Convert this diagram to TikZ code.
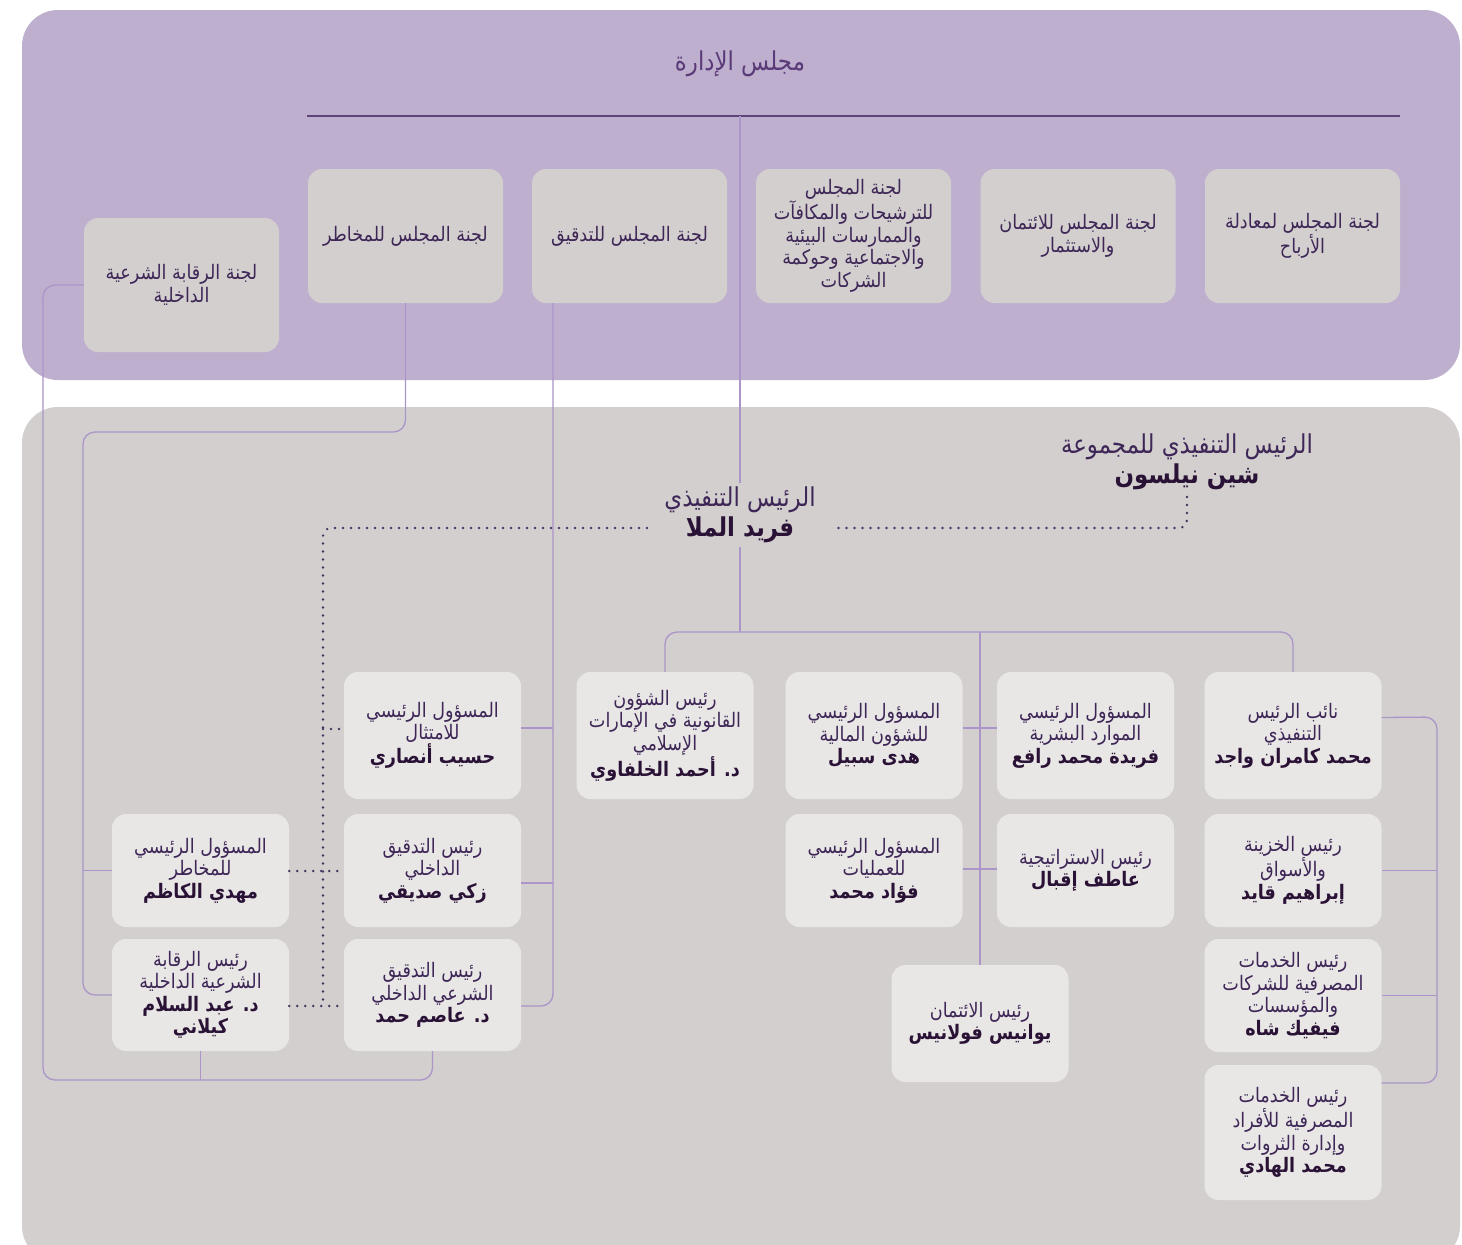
\documentclass[tikz,border=0pt]{standalone}
\usepackage{fontspec}
\TeXXeTstate=1
\newfontfamily\arfont[Script=Arabic,FakeStretch=0.88]{DejaVu Sans}
\newcommand\AR[1]{{\arfont\beginR #1\endR}}
\newcommand\ARB[1]{{\arfont\bfseries\beginR #1\endR}}
\definecolor{toppanel}{HTML}{BEAFCE}
\definecolor{botpanel}{HTML}{D3CFCF}
\definecolor{commc}{HTML}{D3CFCF}
\definecolor{boxc}{HTML}{E9E7E6}
\definecolor{connc}{HTML}{AB95C9}
\definecolor{boardc}{HTML}{5E4478}
\definecolor{txtc}{HTML}{3E2757}
\definecolor{namec}{HTML}{2A1236}
\definecolor{titlec}{HTML}{5A3A78}
\definecolor{dotc}{HTML}{4A3560}
\begin{document}
\begin{tikzpicture}[x=1pt,y=-1pt,
  comm/.style={fill=commc, rounded corners=14, minimum width=195, minimum height=134, align=center, inner sep=2, text=txtc, font=\fontsize{20}{22.7}\selectfont},
  box/.style={fill=boxc, rounded corners=14, minimum width=177, minimum height=127, align=center, inner sep=2, text=txtc, font=\fontsize{20}{22.5}\selectfont},
  head/.style={align=center, text=txtc, font=\fontsize{26}{30.5}\selectfont},
  conn/.style={draw=connc, line width=1.3pt, rounded corners=12},
  dots/.style={draw=dotc, line width=2.7pt, line cap=round, dash pattern=on 0pt off 8pt, rounded corners=8}
]
\useasboundingbox (0,0) rectangle (1462,1245);
\fill[white] (0,0) rectangle (1462,1245);
\begin{scope}
\clip (0,0) rectangle (1462,1245);
\fill[toppanel, rounded corners=36] (22,10) rectangle (1460,380);
\fill[botpanel, rounded corners=36] (22,407) rectangle (1460,1262);
\end{scope}

% Board
\node[text=titlec, font=\fontsize{26}{30}\selectfont] (board) at (740,64) {\AR{مجلس الإدارة}};
\coordinate (bl) at (307,116);
\coordinate (br) at (1400,116);
\coordinate (bm) at (740,116);
\draw[draw=boardc, line width=2.6pt] (bl) -- (br);

% Committees
\node[comm] (c1) at (1302.5,236) {\AR{لجنة المجلس لمعادلة}\\\AR{الأرباح}};
\node[comm] (c2) at (1078,236) {\AR{لجنة المجلس للائتمان}\\\AR{والاستثمار}};
\node[comm] (c3) at (853.5,236) {\AR{لجنة المجلس}\\\AR{للترشيحات والمكافآت}\\\AR{والممارسات البيئية}\\\AR{والاجتماعية وحوكمة}\\\AR{الشركات}};
\node[comm] (c4) at (629.5,236) {\AR{لجنة المجلس للتدقيق}};
\node[comm] (c5) at (405.5,236) {\AR{لجنة المجلس للمخاطر}};
\node[comm] (c6) at (181.5,285) {\AR{لجنة الرقابة الشرعية}\\\AR{الداخلية}};

% Executives
\node[head] (grp) at (1187,462) {\AR{الرئيس التنفيذي للمجموعة}\\{\color{namec}\ARB{شين نيلسون}}};
\node[head] (ceo) at (740,515) {\AR{الرئيس التنفيذي}\\{\color{namec}\ARB{فريد الملا}}};

% Row 1
\node[box] (A) at (1293,735.5) {\AR{نائب الرئيس}\\\AR{التنفيذي}\\{\color{namec}\ARB{محمد كامران واجد}}};
\node[box] (B) at (1085.5,735.5) {\AR{المسؤول الرئيسي}\\\AR{الموارد البشرية}\\{\color{namec}\ARB{فريدة محمد رافع}}};
\node[box] (C) at (874,735.5) {\AR{المسؤول الرئيسي}\\\AR{للشؤون المالية}\\{\color{namec}\ARB{هدى سبيل}}};
\node[box] (D) at (665,735.5) {\AR{رئيس الشؤون}\\\AR{القانونية في الإمارات}\\\AR{الإسلامي}\\{\color{namec}\ARB{د\kern0pt. أحمد الخلفاوي}}};
\node[box] (E) at (432.5,735.5) {\AR{المسؤول الرئيسي}\\\AR{للامتثال}\\{\color{namec}\ARB{حسيب أنصاري}}};

% Row 2
\node[box, minimum height=113] (F) at (1293,870.5) {\AR{رئيس الخزينة}\\\AR{والأسواق}\\{\color{namec}\ARB{إبراهيم قايد}}};
\node[box, minimum height=113] (G) at (1085.5,870.5) {\AR{رئيس الاستراتيجية}\\{\color{namec}\ARB{عاطف إقبال}}};
\node[box, minimum height=113] (H) at (874,870.5) {\AR{المسؤول الرئيسي}\\\AR{للعمليات}\\{\color{namec}\ARB{فؤاد محمد}}};
\node[box, minimum height=113] (I) at (432.5,870.5) {\AR{رئيس التدقيق}\\\AR{الداخلي}\\{\color{namec}\ARB{زكي صديقي}}};
\node[box, minimum height=113] (J) at (200.5,870.5) {\AR{المسؤول الرئيسي}\\\AR{للمخاطر}\\{\color{namec}\ARB{مهدي الكاظم}}};

% Row 3
\node[box, minimum height=113] (K) at (1293,995.5) {\AR{رئيس الخدمات}\\\AR{المصرفية للشركات}\\\AR{والمؤسسات}\\{\color{namec}\ARB{فيفيك شاه}}};
\node[box, minimum height=117] (L) at (980,1023.5) {\AR{رئيس الائتمان}\\{\color{namec}\ARB{يوانيس فولانيس}}};
\node[box, minimum height=112] (M) at (432.5,995) {\AR{رئيس التدقيق}\\\AR{الشرعي الداخلي}\\{\color{namec}\ARB{د\kern0pt. عاصم حمد}}};
\node[box, minimum height=112] (N) at (200.5,995) {\AR{رئيس الرقابة}\\\AR{الشرعية الداخلية}\\{\color{namec}\ARB{د\kern0pt. عبد السلام}}\\{\color{namec}\ARB{كيلاني}}};

% Row 4
\node[box, minimum height=135] (O) at (1293,1132.5) {\AR{رئيس الخدمات}\\\AR{المصرفية للأفراد}\\\AR{وإدارة الثروات}\\{\color{namec}\ARB{محمد الهادي}}};

% Connectors: board to CEO
\draw[conn] (bm) -- (ceo.north);
\coordinate (t) at (740,632);
\draw[conn] (ceo.south) -- (t);
\draw[conn] (D.north) -- (D.north |- t) -- (A.north |- t) -- (A.north);
\draw[conn] (L.north) -- (L.north |- t);
\draw[conn] (C.east |- 0,728) -- (B.west |- 0,728);
\draw[conn] (H.east |- 0,869) -- (G.west |- 0,869);

% Right bracket
\draw[conn] ([yshift=18]A.east) -- (1437,717) -- (1437,1083) -- (O.east |- 0,1083);
\draw[conn] (F.east) -- (1437,870.5);
\draw[conn] (K.east) -- (1437,995.5);

% Audit committee
\draw[conn] (c4.south -| 553,0) -- (553,1006) -- (M.east |- 0,1006);
\draw[conn] (E.east |- 0,728) -- (553,728);
\draw[conn] (I.east |- 0,883) -- (553,883);

% Risk committee
\draw[conn] (c5.south) -- (c5.south |- 0,432) -- (83,432) -- (83,995) -- (N.west);
\draw[conn] (83,870.5) -- (J.west);

% Sharia committee
\draw[conn] (c6.west) -- (43,285) -- (43,1080) -- (432.5,1080) -- (M.south);
\draw[conn] (N.south) -- (N.south |- 0,1080);

% Dotted lines
\draw[dots] (1187,497) -- (1187,528) -- (837,528);
\draw[dots] (647,528) -- (323,528) -- (323,1004);
\draw[dots] (323,729) -- (E.west |- 0,729);
\draw[dots] (J.east |- 0,871) -- (I.west |- 0,871);
\draw[dots] (N.east |- 0,1006) -- (M.west |- 0,1006);
\end{tikzpicture}
\end{document}
